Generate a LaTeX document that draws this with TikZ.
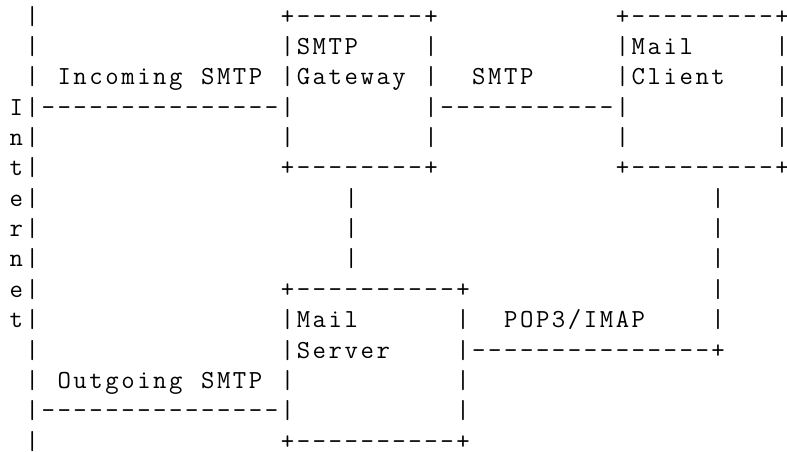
\documentclass[tikz,border=0pt]{standalone}
\makeatletter
\def\asc#1{\asc@#1\@nil}
\def\asc@#1{\ifx#1\@nil\else\hbox to 15.95pt{\hss#1\hss}\expandafter\asc@\fi}
\makeatother
\tikzset{txt/.style={anchor=base west, inner sep=0pt, outer sep=0pt,
  font=\ttfamily\fontsize{26pt}{30pt}\selectfont}}
\newcommand\cell[4]{\node[txt] (#1) at (#3,#2) {\asc{#4}};}
% right-most column, cut by the picture edge as in the reference
\newcommand\rcell[3]{\node[txt, xshift=2.975pt] (#1) at (48,#2) {\hbox to 10pt{\hss#3\hss}};}
\begin{document}
\begin{tikzpicture}
\useasboundingbox (0pt,0pt) rectangle (787pt,-452pt);
\begin{scope}[shift={(8.4pt,-24.1pt)}, x=15.95pt, y=-30.36pt]
% left bar and vertical "Internet"
\foreach \r in {0,...,13} {\cell{bar\r}{\r}{1}{|}}
\node[txt] (bar14) at (1,14) {\hbox to 15.95pt{\hss\smash{|}\hss}};
\foreach \ch [count=\i from 3] in {I,n,t,e,r,n,e,t} {\cell{inet\i}{\i}{0}{\ch}}
% row 0
\cell{gwtop}{0}{17}{+--------+}
\cell{mctop}{0}{38}{+---------}
\rcell{mctopr}{0}{+}
% row 1
\cell{gwa}{1}{17}{|SMTP}
\cell{gwar}{1}{26}{|}
\cell{mca}{1}{38}{|Mail}
\rcell{mcar}{1}{|}
% row 2
\cell{inA}{2}{3}{Incoming}
\cell{inB}{2}{12}{SMTP}
\cell{gwb}{2}{17}{|Gateway}
\cell{gwbr}{2}{26}{|}
\cell{smtp}{2}{29}{SMTP}
\cell{mcb}{2}{38}{|Client}
\rcell{mcbr}{2}{|}
% row 3
\cell{inline}{3}{2}{---------------|}
\cell{gwmc}{3}{26}{|-----------|}
\rcell{mccr}{3}{|}
% row 4
\cell{gwdl}{4}{17}{|}
\cell{gwdr}{4}{26}{|}
\cell{mcdl}{4}{38}{|}
\rcell{mcdr}{4}{|}
% row 5
\cell{gwbot}{5}{17}{+--------+}
\cell{mcbot}{5}{38}{+---------}
\rcell{mcbotr}{5}{+}
% rows 6-8
\foreach \r in {6,7,8} {\cell{gwv\r}{\r}{21}{|}\cell{mcv\r}{\r}{44}{|}}
% row 9
\cell{mstop}{9}{17}{+----------+}
\cell{mcv9}{9}{44}{|}
% row 10
\cell{msa}{10}{17}{|Mail}
\cell{msar}{10}{28}{|}
\cell{pop}{10}{31}{POP3/IMAP}
\cell{mcv10}{10}{44}{|}
% row 11
\cell{msb}{11}{17}{|Server}
\cell{popline}{11}{28}{|---------------+}
% row 12
\cell{outA}{12}{3}{Outgoing}
\cell{outB}{12}{12}{SMTP}
\cell{msc}{12}{17}{|}
\cell{mscr}{12}{28}{|}
% row 13
\cell{outline}{13}{2}{---------------|}
\cell{msdr}{13}{28}{|}
% row 14
\cell{msbot}{14}{17}{+----------+}
\end{scope}
\end{tikzpicture}
\end{document}
